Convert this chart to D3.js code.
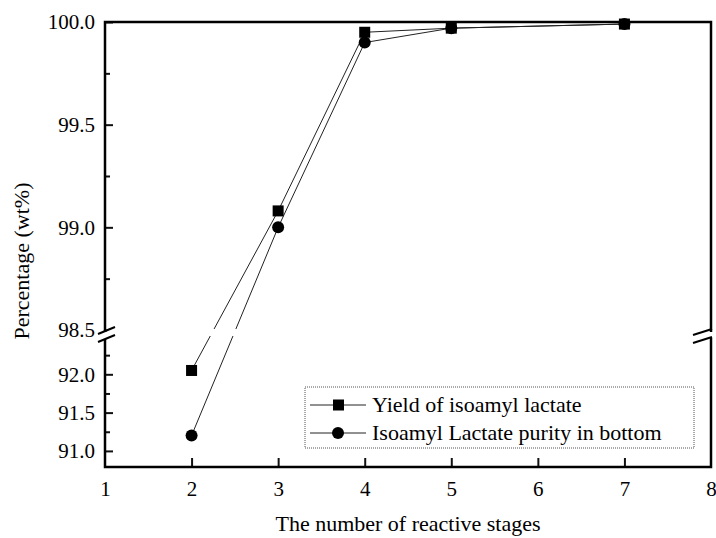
<!DOCTYPE html>
<html><head><meta charset="utf-8">
<script src="https://cdn.jsdelivr.net/npm/d3@7"></script>
<style>.serif{font-family:"Liberation Serif";}</style>
</head><body style="margin:0">
<svg id="c" width="716" height="538"></svg>
<script>
const stages = [2, 3, 4, 5, 7];
const yieldVals = [92.05, 99.08, 99.95, 99.97, 99.99];
const purityVals = [91.2, 99.0, 99.9, 99.97, 99.99];
const seriesNames = ["Yield of isoamyl lactate", "Isoamyl Lactate purity in bottom"];
const xTicks = [1, 2, 3, 4, 5, 6, 7, 8];
const yTicksUpper = [98.5, 99.0, 99.5, 100.0];
const yTicksLower = [91.0, 91.5, 92.0];
const yMinorUpper = [98.75, 99.25, 99.75];
const yMinorLower = [91.25, 91.75, 92.25];

const svg = d3.select("#c");
const L = 105, R = 711, T = 22, B = 467;
const breakTop = 330, breakBot = 336;
const x = d3.scaleLinear().domain([1, 8]).range([L, R]);
const yUp = d3.scaleLinear().domain([98.5, 100]).range([breakTop, T]);
const yLow = d3.scaleLinear().domain([90.79, 92.5]).range([B, breakBot]);
const y = v => v >= 95 ? yUp(v) : yLow(v);

const fmt = d3.format(".1f");
function yAxis(scale, major, minor) {
  const g = svg.append("g").attr("transform", `translate(${L},0)`);
  g.call(d3.axisLeft(scale).tickValues(major).tickFormat(fmt).tickSizeInner(-8).tickSizeOuter(0).tickPadding(10));
  g.select(".domain").remove();
  g.selectAll(".tick line").attr("stroke", "#111").attr("stroke-width", 2);
  g.selectAll("text").attr("font-family", "Liberation Serif").attr("font-size", 21);
  const g2 = svg.append("g").attr("transform", `translate(${L},0)`);
  g2.call(d3.axisLeft(scale).tickValues(minor).tickFormat("").tickSizeInner(-5).tickSizeOuter(0));
  g2.select(".domain").remove();
  g2.selectAll("text").remove();
  g2.selectAll(".tick line").attr("stroke", "#111").attr("stroke-width", 2);
}
yAxis(yUp, yTicksUpper, yMinorUpper);
yAxis(yLow, yTicksLower, yMinorLower);

const gx = svg.append("g").attr("transform", `translate(0,${B})`);
gx.call(d3.axisBottom(x).tickValues(xTicks).tickFormat(d3.format("d")).tickSizeInner(-9).tickSizeOuter(0).tickPadding(14));
gx.select(".domain").remove();
gx.selectAll(".tick line").attr("stroke", "#111").attr("stroke-width", 2);
gx.selectAll(".tick").filter(d => d === 1 || d === 8).select("line").remove();
gx.selectAll("text").style("font-family", '"Liberation Serif"').attr("font-size", 21);

const line = d3.line().x((d, i) => x(stages[i])).y(d => y(d));
svg.append("path").datum(yieldVals).attr("d", line).attr("fill", "none").attr("stroke", "#222").attr("stroke-width", 1);
svg.append("path").datum(purityVals).attr("d", line).attr("fill", "none").attr("stroke", "#222").attr("stroke-width", 1);

svg.append("rect").attr("x", L + 2).attr("y", breakTop - 1).attr("width", R - L - 4).attr("height", breakBot - breakTop + 1).attr("fill", "#fff");

svg.append("g").selectAll("rect").data(yieldVals).join("rect")
  .attr("x", (d, i) => x(stages[i]) - 5.5).attr("y", d => y(d) - 5.5)
  .attr("width", 11).attr("height", 11).attr("fill", "#000");
svg.append("g").selectAll("circle").data(purityVals).join("circle")
  .attr("cx", (d, i) => x(stages[i])).attr("cy", d => y(d)).attr("r", 6).attr("fill", "#000");

const fr = svg.append("g").attr("stroke", "#000").attr("stroke-width", 2.5).attr("fill", "none");
fr.append("path").attr("d", `M${L},${breakTop + 1}V${T}H${R}V${breakTop + 2}`);
fr.append("path").attr("d", `M${L},${breakBot + 3}V${B}H${R}V${breakBot + 2}`);
const sl = svg.append("g").attr("stroke", "#000").attr("stroke-width", 2);
sl.append("line").attr("x1", L - 7).attr("y1", breakTop + 4).attr("x2", L + 10).attr("y2", breakTop - 3);
sl.append("line").attr("x1", L - 7).attr("y1", breakBot + 6).attr("x2", L + 10).attr("y2", breakBot - 1);
sl.append("line").attr("x1", R - 18).attr("y1", breakTop + 5).attr("x2", R + 1).attr("y2", breakTop - 1);
sl.append("line").attr("x1", R - 18).attr("y1", breakBot + 7).attr("x2", R + 1).attr("y2", breakBot + 1);

const lg = svg.append("g");
lg.append("rect").attr("x", 305).attr("y", 387).attr("width", 389).attr("height", 61)
  .attr("fill", "#fff").attr("stroke", "#555").attr("stroke-width", 1).attr("stroke-dasharray", "1,1");
const rows = [405, 433];
seriesNames.forEach((name, i) => {
  lg.append("line").attr("x1", 310).attr("x2", 366).attr("y1", rows[i]).attr("y2", rows[i]).attr("stroke", "#222").attr("stroke-width", 1);
  if (i === 0) lg.append("rect").attr("x", 333).attr("y", rows[i] - 5.5).attr("width", 11).attr("height", 11).attr("fill", "#000");
  else lg.append("circle").attr("cx", 338).attr("cy", rows[i]).attr("r", 6).attr("fill", "#000");
  lg.append("text").attr("x", 372).attr("y", rows[i] + 7).style("font-family", '"Liberation Serif"').attr("font-size", 22).text(name);
});

svg.append("text").attr("class", "serif").attr("x", (L + R) / 2).attr("y", 531).attr("text-anchor", "middle").attr("font-size", 22).text("The number of reactive stages");
svg.append("text").attr("class", "serif").attr("transform", "translate(29,261) rotate(-90)").attr("text-anchor", "middle").attr("font-size", 22).text("Percentage (wt%)");
</script></body></html>
